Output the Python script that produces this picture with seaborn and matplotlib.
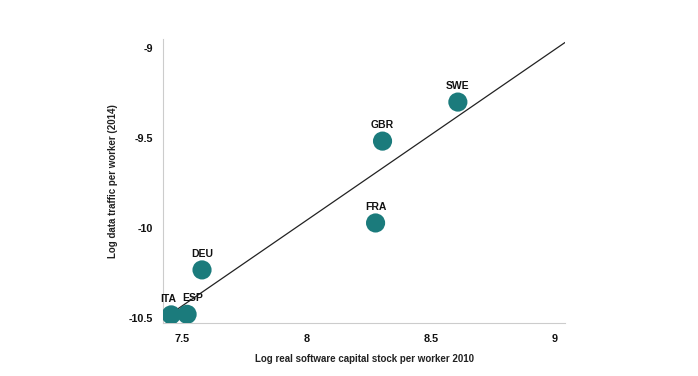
import matplotlib
matplotlib.use("Agg")
import matplotlib.pyplot as plt
import seaborn as sns
import pandas as pd

# Data
countries = ["ITA", "ESP", "DEU", "FRA", "GBR", "SWE"]
software_capital = [7.456, 7.52, 7.58, 8.278, 8.306, 8.609]
data_traffic = [-10.483, -10.48, -10.233, -9.972, -9.517, -9.30]

xticks = [7.5, 8, 8.5, 9]
yticks = [-9, -9.5, -10, -10.5]

df = pd.DataFrame({"country": countries, "x": software_capital, "y": data_traffic})

sns.set_style("white")
plt.rcParams["font.family"] = ["Liberation Sans", "DejaVu Sans"]

teal = "#1b7b7c"

fig = plt.figure(figsize=(6.98, 3.76), dpi=100)
ax = fig.add_axes([0.2335, 0.141, 0.576, 0.755])

# limits first so the fitted line spans the whole axis
ax.set_xlim(7.423, 9.04)
ax.set_ylim(-10.528, -8.95)

sns.regplot(data=df, x="x", y="y", ax=ax, ci=None, truncate=False, scatter=False,
            line_kws={"color": "#222222", "lw": 0.9, "zorder": 1})
sns.scatterplot(data=df, x="x", y="y", ax=ax, s=190, color=teal, edgecolor="none",
                zorder=3, legend=False)
ax.set_xlim(7.423, 9.04)
ax.set_ylim(-10.528, -8.95)

# small horizontal nudges so ITA / ESP labels don't collide
nudge = {"ITA": -2, "ESP": 4}
for c, xv, yv in zip(countries, software_capital, data_traffic):
    ax.annotate(c, (xv, yv), xytext=(nudge.get(c, 0), 8), textcoords="offset points",
                ha="center", va="bottom", fontsize=7.5, fontweight="bold", color="#111111")

ax.set_xticks(xticks)
ax.set_xticklabels([f"{t:g}" for t in xticks])
ax.set_yticks(yticks)
ax.set_yticklabels([f"{t:g}" for t in yticks])
ax.tick_params(axis="x", length=0, labelsize=7.8, pad=8)
ax.tick_params(axis="y", length=0, labelsize=7.8, pad=7)
for lab in ax.get_xticklabels() + ax.get_yticklabels():
    lab.set_fontweight("bold")
    lab.set_color("#111111")

ax.set_xlabel("Log real software capital stock per worker 2010", fontsize=7,
              fontweight="bold", color="#222222", labelpad=7)
ax.set_ylabel("Log data traffic per worker (2014)", fontsize=7,
              fontweight="bold", color="#222222", labelpad=8)

sns.despine(ax=ax)
for side in ["left", "bottom"]:
    ax.spines[side].set_color("#cccccc")
    ax.spines[side].set_linewidth(0.8)

fig.savefig("out.png", dpi=100)
